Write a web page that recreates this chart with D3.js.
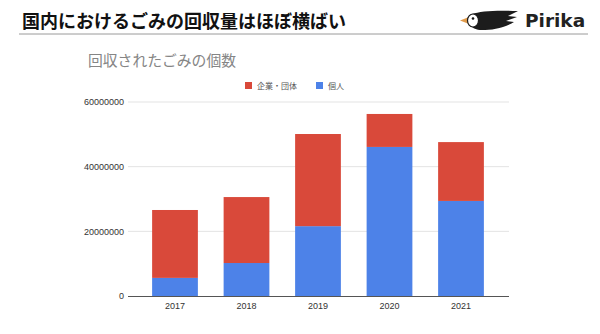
<!DOCTYPE html>
<html><head><meta charset="utf-8">
<script src="https://cdn.jsdelivr.net/npm/d3@7"></script>
<style>
html,body{margin:0;padding:0;background:#fff;}
svg{display:block;}
</style></head>
<body>
<script>
const years = ["2017","2018","2019","2020","2021"];
const corporate = [21000000, 20400000, 28500000, 10200000, 18200000];
const individual = [5600000, 10200000, 21600000, 46100000, 29400000];
const yTicks = [0, 20000000, 40000000, 60000000];
const seriesNames = ["企業・団体", "個人"];
const seriesColors = ["#d9493a", "#4d82e8"];

const W = 600, H = 334;
const svg = d3.select("body").append("svg").attr("width", W).attr("height", H);
const jp = "'Noto Sans CJK JP', 'Noto Sans', sans-serif";

// header
svg.append("text").attr("x", 22).attr("y", 28)
  .attr("font-family", jp).attr("font-weight", 700).attr("font-size", 18)
  .attr("fill", "#111").text("国内におけるごみの回収量はほぼ横ばい");
svg.append("line").attr("x1", 19).attr("x2", 588).attr("y1", 34).attr("y2", 34)
  .attr("stroke", "#9a9a9a").attr("stroke-width", 1);

// logo
const logo = svg.append("g").attr("transform", "translate(458,8)");
logo.append("path").attr("d", "M14,6 C22,3 38,2 60,3 L50,8 L59,9 L48,13 L56,14 C46,20 34,22 24,22 C18,22 15,20 13,18 Z").attr("fill", "#1c1c1c");
logo.append("path").attr("d", "M2,12.5 L11,9 L11,16 Z").attr("fill", "#e09a4a");
logo.append("ellipse").attr("cx", 15).attr("cy", 12.5).attr("rx", 5.5).attr("ry", 6.5).attr("fill", "#fff").attr("stroke","#1c1c1c").attr("stroke-width",1.2);
logo.append("circle").attr("cx", 15).attr("cy", 10.5).attr("r", 1.3).attr("fill", "#111");
svg.append("text").attr("x", 525).attr("y", 27)
  .attr("font-family", "'DejaVu Sans', sans-serif").attr("font-weight", 700).attr("font-size", 18.5)
  .attr("fill", "#222").text("Pirika");

// chart title
svg.append("text").attr("x", 88).attr("y", 66)
  .attr("font-family", jp).attr("font-size", 14.8).attr("fill", "#858585")
  .text("回収されたごみの個数");

// scales
const x = d3.scaleBand().domain(years).range([139.25, 496.75]).paddingInner(0.36).paddingOuter(0.18);
const y = d3.scaleLinear().domain([0, 60000000]).range([296, 102]);

// grid
svg.append("g").selectAll("line").data(yTicks.filter(d=>d>0)).join("line")
  .attr("x1", 128).attr("x2", 509).attr("y1", d=>y(d)).attr("y2", d=>y(d))
  .attr("stroke", "#e3e3e3").attr("stroke-width", 1);

// y labels
const yAxis = d3.axisLeft(y).tickValues(yTicks).tickSize(0).tickPadding(4).tickFormat(d3.format("d"));
const ya = svg.append("g").attr("transform", "translate(128,0)").call(yAxis);
ya.select(".domain").remove();
ya.selectAll("text").attr("font-family", "'Liberation Sans', Arial, sans-serif").attr("font-size", 9).attr("fill", "#333");

// stacked bars
const rows = years.map((yr,i)=>({year: yr, corporate: corporate[i], individual: individual[i]}));
const stack = d3.stack().keys(["individual","corporate"]);
const layers = stack(rows);
const colorFor = {individual: seriesColors[1], corporate: seriesColors[0]};
svg.append("g").selectAll("g").data(layers).join("g")
  .attr("fill", d=>colorFor[d.key])
  .selectAll("rect").data(d=>d).join("rect")
  .attr("x", d=>x(d.data.year)).attr("width", x.bandwidth())
  .attr("y", d=>y(d[1])).attr("height", d=>y(d[0]) - y(d[1]));

// baseline
svg.append("line").attr("x1", 128).attr("x2", 509).attr("y1", 296.5).attr("y2", 296.5)
  .attr("stroke", "#555").attr("stroke-width", 1);

// x axis
const xAxis = d3.axisBottom(x).tickSize(0).tickPadding(6);
const xa = svg.append("g").attr("transform", "translate(0,297)").call(xAxis);
xa.select(".domain").remove();
xa.selectAll("text").attr("font-family", "'Liberation Sans', Arial, sans-serif").attr("font-size", 9).attr("fill", "#333");

// legend
const legendX = [245, 316];
const lg = svg.append("g");
seriesNames.forEach((n,i)=>{
  lg.append("rect").attr("x", legendX[i]).attr("y", 82).attr("width", 7).attr("height", 7).attr("fill", seriesColors[i]);
  lg.append("text").attr("x", legendX[i] + 12).attr("y", 88.5)
    .attr("font-family", jp).attr("font-size", 8).attr("fill", "#555").text(n);
});
</script>
</body></html>
